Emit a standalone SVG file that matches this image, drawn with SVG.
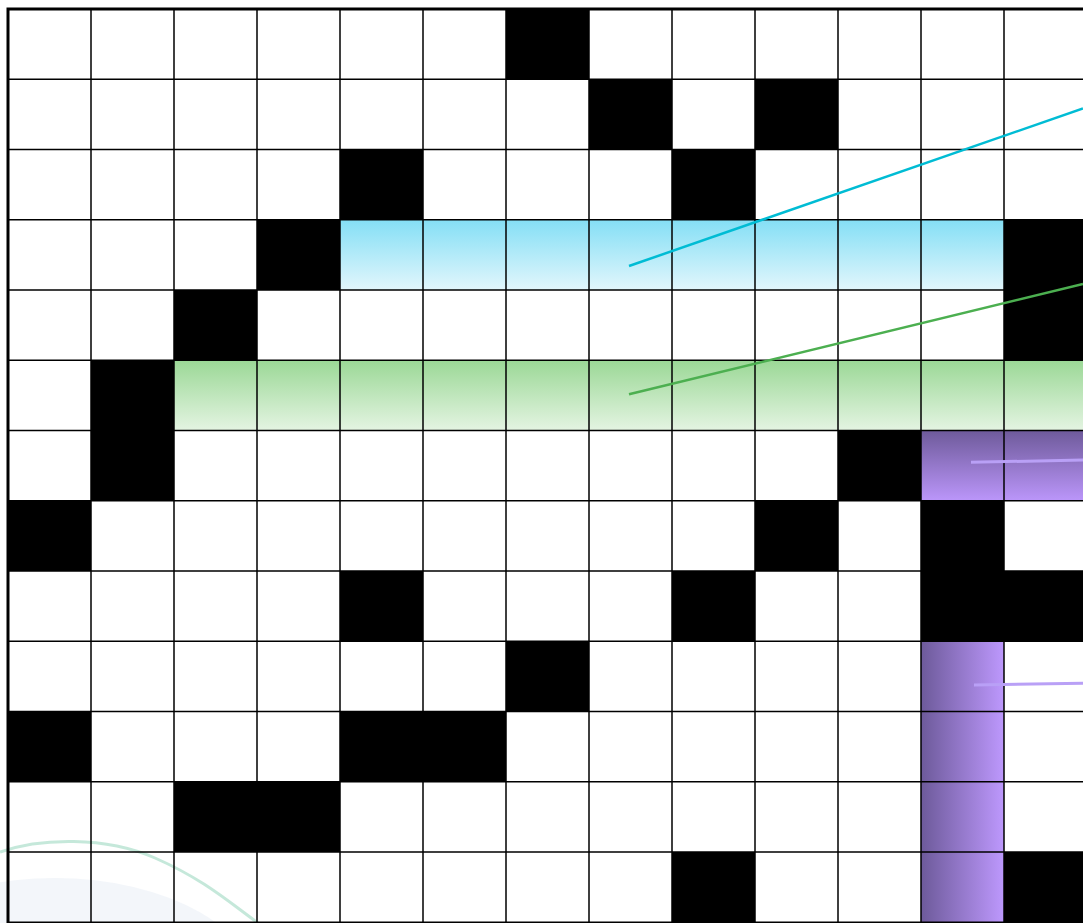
<svg xmlns="http://www.w3.org/2000/svg" width="1083" height="923" viewBox="0 0 1083 923">
  <defs>
    <linearGradient id="gBlue" x1="0" y1="0" x2="0" y2="1">
      <stop offset="0" stop-color="#84dff5"/>
      <stop offset="1" stop-color="#e2f6fc"/>
    </linearGradient>
    <linearGradient id="gGreen" x1="0" y1="0" x2="0" y2="1">
      <stop offset="0" stop-color="#9bd896"/>
      <stop offset="1" stop-color="#e4f4e2"/>
    </linearGradient>
    <linearGradient id="gPurpleV" x1="0" y1="0" x2="0" y2="1">
      <stop offset="0" stop-color="#6e5a9a"/>
      <stop offset="1" stop-color="#bb96fa"/>
    </linearGradient>
    <linearGradient id="gPurpleH" x1="0" y1="0" x2="1" y2="0">
      <stop offset="0" stop-color="#6d5a9a"/>
      <stop offset="1" stop-color="#bd98fd"/>
    </linearGradient>
    <style>
      .blk { fill: #000; }
      .blue { fill: url(#gBlue); }
      .green { fill: url(#gGreen); }
      .pv { fill: url(#gPurpleV); }
      .ph { fill: url(#gPurpleH); }
      .grid { stroke: #000; stroke-width: 1.5; fill: none; }
      .conn { fill: none; stroke-linecap: butt; }
    </style>
  </defs>
  <rect x="0" y="0" width="1083" height="923" fill="#ffffff"/>

  <g id="watermark">
    <ellipse cx="55" cy="995" rx="205" ry="117" fill="#f1f4f9" opacity="0.85"/>
    <path d="M0,852 C40,838 105,836 155,858 S230,903 258,923" fill="none" stroke="#b2e0ce" stroke-width="3" opacity="0.75"/>
  </g>

  <g id="black-cells">
    <rect class="blk" x="506" y="9" width="83" height="70.25"/>
    <rect class="blk" x="589" y="79.25" width="83" height="70.25"/>
    <rect class="blk" x="755" y="79.25" width="83" height="70.25"/>
    <rect class="blk" x="340" y="149.5" width="83" height="70.25"/>
    <rect class="blk" x="672" y="149.5" width="83" height="70.25"/>
    <rect class="blk" x="257" y="219.75" width="83" height="70.25"/>
    <rect class="blk" x="1004" y="219.75" width="83" height="140.5"/>
    <rect class="blk" x="174" y="290" width="83" height="70.25"/>
    <rect class="blk" x="91" y="360.25" width="83" height="140.5"/>
    <rect class="blk" x="838" y="430.5" width="83" height="70.25"/>
    <rect class="blk" x="8" y="500.75" width="83" height="70.25"/>
    <rect class="blk" x="755" y="500.75" width="83" height="70.25"/>
    <rect class="blk" x="921" y="500.75" width="83" height="140.5"/>
    <rect class="blk" x="340" y="571" width="83" height="70.25"/>
    <rect class="blk" x="672" y="571" width="83" height="70.25"/>
    <rect class="blk" x="1004" y="571" width="83" height="70.25"/>
    <rect class="blk" x="506" y="641.25" width="83" height="70.25"/>
    <rect class="blk" x="8" y="711.5" width="83" height="70.25"/>
    <rect class="blk" x="340" y="711.5" width="166" height="70.25"/>
    <rect class="blk" x="174" y="781.75" width="166" height="70.25"/>
    <rect class="blk" x="672" y="852" width="83" height="71"/>
    <rect class="blk" x="1004" y="852" width="83" height="71"/>
  </g>

  <g id="word-blue-across">
    <rect class="blue" x="340" y="219.75" width="83" height="70.25"/>
    <rect class="blue" x="423" y="219.75" width="83" height="70.25"/>
    <rect class="blue" x="506" y="219.75" width="83" height="70.25"/>
    <rect class="blue" x="589" y="219.75" width="83" height="70.25"/>
    <rect class="blue" x="672" y="219.75" width="83" height="70.25"/>
    <rect class="blue" x="755" y="219.75" width="83" height="70.25"/>
    <rect class="blue" x="838" y="219.75" width="83" height="70.25"/>
    <rect class="blue" x="921" y="219.75" width="83" height="70.25"/>
  </g>

  <g id="word-green-across">
    <rect class="green" x="174" y="360.25" width="83" height="70.25"/>
    <rect class="green" x="257" y="360.25" width="83" height="70.25"/>
    <rect class="green" x="340" y="360.25" width="83" height="70.25"/>
    <rect class="green" x="423" y="360.25" width="83" height="70.25"/>
    <rect class="green" x="506" y="360.25" width="83" height="70.25"/>
    <rect class="green" x="589" y="360.25" width="83" height="70.25"/>
    <rect class="green" x="672" y="360.25" width="83" height="70.25"/>
    <rect class="green" x="755" y="360.25" width="83" height="70.25"/>
    <rect class="green" x="838" y="360.25" width="83" height="70.25"/>
    <rect class="green" x="921" y="360.25" width="83" height="70.25"/>
    <rect class="green" x="1004" y="360.25" width="83" height="70.25"/>
  </g>

  <g id="word-purple-across">
    <rect class="pv" x="921" y="430.5" width="83" height="70.25"/>
    <rect class="pv" x="1004" y="430.5" width="83" height="70.25"/>
  </g>

  <g id="word-purple-down">
    <rect class="ph" x="921" y="641.25" width="83" height="70.25"/>
    <rect class="ph" x="921" y="711.5" width="83" height="70.25"/>
    <rect class="ph" x="921" y="781.75" width="83" height="70.25"/>
    <rect class="ph" x="921" y="852" width="83" height="71"/>
  </g>

  <g id="grid-lines">
    <path class="grid" d="M91,9V923 M174,9V923 M257,9V923 M340,9V923 M423,9V923 M506,9V923 M589,9V923 M672,9V923 M755,9V923 M838,9V923 M921,9V923 M1004,9V923
      M8,79.25H1083 M8,149.5H1083 M8,219.75H1083 M8,290H1083 M8,360.25H1083 M8,430.5H1083 M8,500.75H1083 M8,571H1083 M8,641.25H1083 M8,711.5H1083 M8,781.75H1083 M8,852H1083 M8,922.25H1083"/>
    <rect x="8" y="9" width="1090" height="930" fill="none" stroke="#000" stroke-width="3"/>
  </g>

  <g id="connectors">
    <line class="conn" x1="629" y1="266" x2="1083" y2="108.5" stroke="#00bcd4" stroke-width="2.5"/>
    <line class="conn" x1="629" y1="394.3" x2="1083" y2="284" stroke="#4caf50" stroke-width="2.5"/>
    <line class="conn" x1="971" y1="462.3" x2="1083" y2="460" stroke="#b9a0f6" stroke-width="3"/>
    <line class="conn" x1="974" y1="685" x2="1083" y2="683.3" stroke="#b9a0f6" stroke-width="3"/>
  </g>
</svg>
